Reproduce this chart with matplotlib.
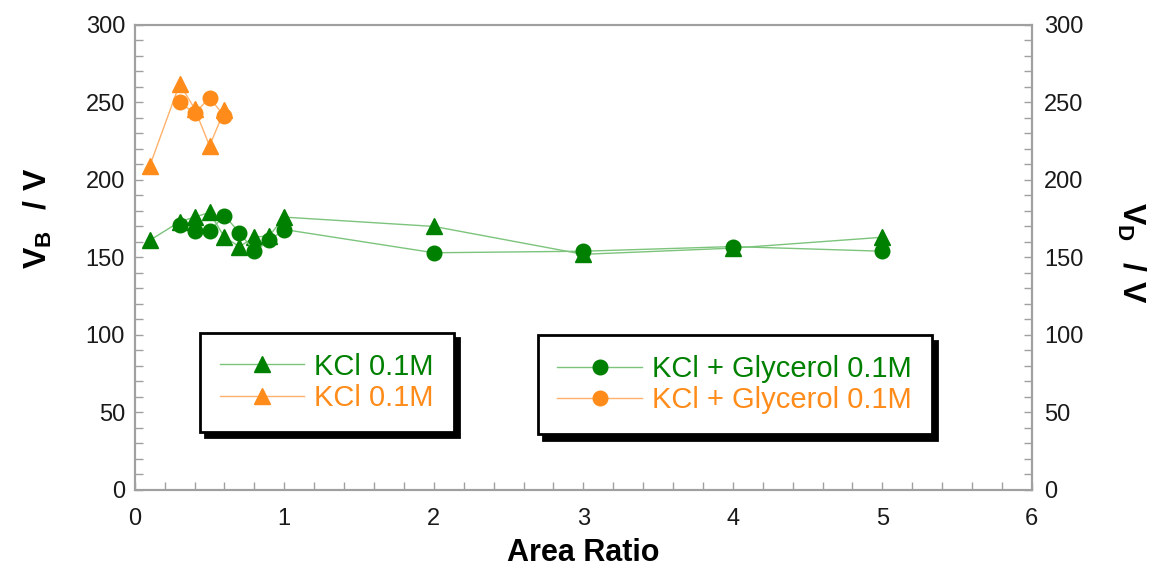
import matplotlib
matplotlib.use("Agg")
import matplotlib.pyplot as plt
from matplotlib.ticker import MultipleLocator

plt.rcParams['font.family'] = ['Liberation Sans', 'DejaVu Sans']
plt.rcParams['mathtext.fontset'] = 'custom'
plt.rcParams['mathtext.rm'] = 'Liberation Sans'
plt.rcParams['mathtext.bf'] = 'Liberation Sans:bold'

# --- data ---
kcl_x = [0.1, 0.3, 0.4, 0.5, 0.6, 0.7, 0.8, 0.9, 1.0, 2, 3, 4, 5]
kcl_vb = [161, 173, 176, 179, 163, 157, 163, 164, 176, 170, 152, 156, 163]

gly_x = [0.3, 0.4, 0.5, 0.6, 0.7, 0.8, 0.9, 1.0, 2, 3, 4, 5]
gly_vb = [171, 167, 167, 177, 166, 154, 161, 168, 153, 154, 157, 154]

kcl_vd_x = [0.1, 0.3, 0.4, 0.5, 0.6]
kcl_vd = [209, 262, 246, 222, 245]

gly_vd_x = [0.3, 0.4, 0.5, 0.6]
gly_vd = [250, 243, 253, 241]

green = '#008000'
orange = '#ff8c1a'
light_green = '#7cc47c'
light_orange = '#ffb26b'
spine_grey = '#a0a0a0'

fig = plt.figure(figsize=(11.62, 5.67), dpi=100)
ax = fig.add_axes([0.116, 0.136, 0.772, 0.82])
ax2 = ax.twinx()

ms = 10.5
l1, = ax.plot(kcl_x, kcl_vb, color=light_green, lw=1, marker='^', ms=ms + 1,
              mfc=green, mec=green, label='KCl 0.1M')
l3, = ax.plot(gly_x, gly_vb, color=light_green, lw=1, marker='o', ms=ms,
              mfc=green, mec=green, label='KCl + Glycerol 0.1M')
l2, = ax2.plot(kcl_vd_x, kcl_vd, color=light_orange, lw=1, marker='^', ms=ms + 1,
               mfc=orange, mec=orange, label='KCl 0.1M')
l4, = ax2.plot(gly_vd_x, gly_vd, color=light_orange, lw=1, marker='o', ms=ms,
               mfc=orange, mec=orange, label='KCl + Glycerol 0.1M')

for a in (ax, ax2):
    a.set_xlim(0, 6)
    a.set_ylim(0, 300)
    a.yaxis.set_major_locator(MultipleLocator(50))
    a.yaxis.set_minor_locator(MultipleLocator(10))
    for s in a.spines.values():
        s.set_color(spine_grey)
        s.set_linewidth(1.5)
    a.tick_params(which='both', direction='in', length=6, width=1,
                  color=spine_grey, labelsize=17, labelcolor='#1a1a1a')

ax.xaxis.set_major_locator(MultipleLocator(1))
ax.xaxis.set_minor_locator(MultipleLocator(0.2))
ax.tick_params(axis='x', pad=13)
ax.tick_params(axis='y', pad=7)
ax2.tick_params(axis='y', pad=9)

ax.set_xlabel('Area Ratio', fontsize=22, fontweight='bold')
ax.xaxis.set_label_coords(0.5, -0.103)
ax.set_ylabel(r'$\mathbf{V_{B}\ \ /\ V}$', fontsize=23)
ax.yaxis.set_label_coords(-0.09, 0.585)
ax2.set_ylabel(r'$\mathbf{V_{D}\ \ /\ V}$', fontsize=23, rotation=270)
ax2.yaxis.set_label_coords(1.128, 0.51)

shadow = {'ox': 4, 'oy': -4, 'facecolor': 'k', 'edgecolor': 'k', 'alpha': 1}
leg_kw = dict(loc='upper left', borderaxespad=0, fontsize=21, handlelength=2.9,
              handletextpad=0.35, labelspacing=0.12, borderpad=0.68,
              fancybox=False, edgecolor='k', framealpha=1, shadow=shadow)

leg1 = ax2.legend([l1, l2], ['KCl 0.1M', 'KCl 0.1M'],
                  bbox_to_anchor=(0.0725, 0.338), labelcolor=[green, orange], **leg_kw)
leg1.get_frame().set_linewidth(2)
ax2.add_artist(leg1)
leg2 = ax2.legend([l3, l4], ['KCl + Glycerol 0.1M', 'KCl + Glycerol 0.1M'],
                  bbox_to_anchor=(0.449, 0.333), labelcolor=[green, orange], **leg_kw)
leg2.get_frame().set_linewidth(2)

fig.savefig('out.png', dpi=100, facecolor='white')
